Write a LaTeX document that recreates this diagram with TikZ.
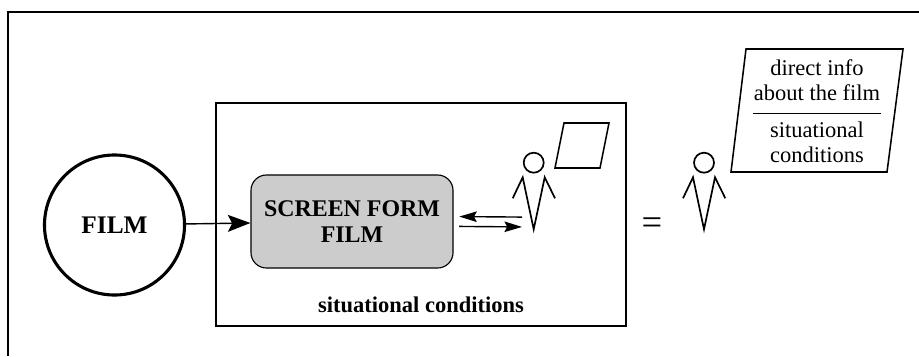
\documentclass[tikz,border=0pt]{standalone}
\usepackage{fontspec}
\setmainfont{Liberation Serif}
\usetikzlibrary{arrows.meta}
\tikzset{
    film circle/.style={circle, draw, line width=2.2pt, minimum size=3.5cm, inner sep=0pt,
        font=\bfseries\fontsize{18}{20}\selectfont},
    screen box/.style={draw, line width=0.8pt, fill=gray!40, rounded corners=11pt,
        minimum width=5.05cm, minimum height=2.325cm, align=center,
        font=\bfseries\fontsize{17}{18.2}\selectfont},
    big arrow/.style={-{Stealth[length=16pt, width=12pt, inset=3pt]}, line width=1pt},
    small arrow/.style={-{Stealth[length=12.5pt, width=7.5pt, inset=2pt]}, line width=1pt},
    viewer/.style={line width=1.2pt, line join=miter},
    sheet/.style={line width=1.1pt, line join=miter},
    info/.style={align=center, font=\fontsize{16}{17.5}\selectfont, inner sep=0pt},
}
\begin{document}
\begin{tikzpicture}[x=0.025cm, y=-0.025cm]
\useasboundingbox (0,0) rectangle (919,356);
% frame and room
\draw[line width=1.6pt] (8,356) -- (8,12) -- (919,12);
\draw[line width=1.1pt] (216,103) rectangle (626,326);

\node[film circle] (film) at (114.5,225) {FILM};
\node[screen box] (screen) at (352,221.5) {SCREEN FORM\\FILM};
\node[anchor=base, font=\bfseries\fontsize{16}{18}\selectfont] (situ) at (421,312) {situational conditions};
\draw[big arrow] (film) -- (screen);

% viewer in the room
\coordinate (viewer1) at (522,222);
\draw[viewer] (533.7,162.7) circle[radius=10];
\draw[viewer] (512.7,198.3) -- (522.7,177.3) -- (533.7,229.3) -- (544.7,177.3) -- (555,198.3);
\draw[sheet] (564,123) -- (609,123) -- (600,168) -- (555,168) -- cycle;
\draw[small arrow] ([yshift=3.5pt]viewer1) -- ([xshift=4pt, yshift=3.5pt]screen.east);
\draw[small arrow] ([xshift=4pt, yshift=-3.5pt]screen.east) -- ([yshift=-3.5pt]viewer1);

\node[font=\fontsize{26}{26}\selectfont] (eq) at (652,226) {=};

% viewer outside
\draw[viewer] (704,162.7) circle[radius=10];
\draw[viewer] (683,198.3) -- (693,177.3) -- (704,229.3) -- (715,177.3) -- (725.3,198.3);
\draw[sheet] (746,49) -- (903,49) -- (887,172) -- (731,172) -- cycle;
\node[info, anchor=base] (direct) at (817,100) {direct info\\about the film};
\node[info, anchor=base] (cond) at (817,162.3) {situational\\conditions};
\draw[line width=0.6pt] (753,113) -- (881,113);
\end{tikzpicture}
\end{document}
